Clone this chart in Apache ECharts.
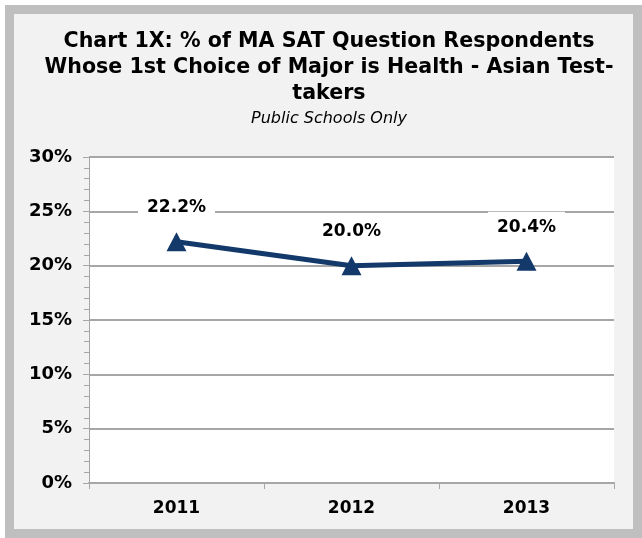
<!DOCTYPE html>
<html>
<head>
<meta charset="utf-8">
<script src="https://cdn.jsdelivr.net/npm/echarts@6/dist/echarts.min.js"></script>
<style>
  html, body { margin: 0; padding: 0; background: #fff; }
  .frame {
    position: absolute; left: 5px; top: 5px;
    width: 619px; height: 515px;
    background: #f2f2f2;
    border: 9px solid #bfbfbf;
  }
  #chart { position: absolute; left: 0; top: 0; width: 642px; height: 538px; }
</style>
</head>
<body>
<div class="frame"></div>
<div id="chart"></div>
<script>
const years = ['2011', '2012', '2013']
const healthPct = [22.2, 20.0, 20.4]
const yTicks = [0, 5, 10, 15, 20, 25, 30]

const chart = echarts.init(document.getElementById('chart'))
const font = '"DejaVu Sans", Arial, sans-serif'

chart.setOption({
  backgroundColor: 'transparent',
  title: {
    text: 'Chart 1X: % of MA SAT Question Respondents\nWhose 1st Choice of Major is Health - Asian Test-\ntakers',
    subtext: 'Public Schools Only',
    left: 329,
    textAlign: 'center',
    top: 29,
    itemGap: 2,
    padding: 0,
    textStyle: {
      fontFamily: font,
      fontSize: 20.6,
      fontWeight: 'bold',
      color: '#000',
      lineHeight: 26
    },
    subtextStyle: {
      fontFamily: font,
      fontSize: 16,
      fontStyle: 'italic',
      color: '#000',
      lineHeight: 19
    }
  },
  grid: {
    left: 89,
    right: 28,
    top: 157,
    bottom: 55,
    show: true,
    backgroundColor: '#fff',
    borderWidth: 0
  },
  xAxis: {
    type: 'category',
    data: years,
    boundaryGap: true,
    axisLine: { lineStyle: { color: '#a6a6a6', width: 2 } },
    axisTick: { show: true, length: 6, lineStyle: { color: '#a6a6a6', width: 1 } },
    axisLabel: {
      margin: 17,
      fontFamily: font,
      fontSize: 17,
      fontWeight: 'bold',
      color: '#000'
    },
    splitLine: { show: false }
  },
  yAxis: {
    type: 'value',
    min: yTicks[0],
    max: yTicks[yTicks.length - 1],
    interval: 5,
    axisLine: { show: true, lineStyle: { color: '#a6a6a6', width: 1 } },
    axisTick: { show: true, length: 6, lineStyle: { color: '#a6a6a6' } },
    minorTick: { show: true, splitNumber: 5, length: 5, lineStyle: { color: '#a6a6a6' } },
    axisLabel: {
      margin: 17,
      formatter: '{value}%',
      fontFamily: font,
      fontSize: 18,
      fontWeight: 'bold',
      color: '#000'
    },
    splitLine: { show: true, lineStyle: { color: '#a6a6a6', width: 2 } }
  },
  series: [
    {
      type: 'line',
      data: healthPct,
      symbol: 'triangle',
      symbolSize: [20, 19],
      lineStyle: { color: '#12396a', width: 5 },
      itemStyle: { color: '#12396a' },
      label: {
        show: true,
        position: 'top',
        distance: 9,
        formatter: p => p.value.toFixed(1) + '%',
        fontFamily: font,
        fontSize: 17,
        fontWeight: 'bold',
        color: '#000',
        backgroundColor: '#fff',
        padding: [7, 9]
      },
      z: 5
    }
  ]
})
</script>
</body>
</html>
